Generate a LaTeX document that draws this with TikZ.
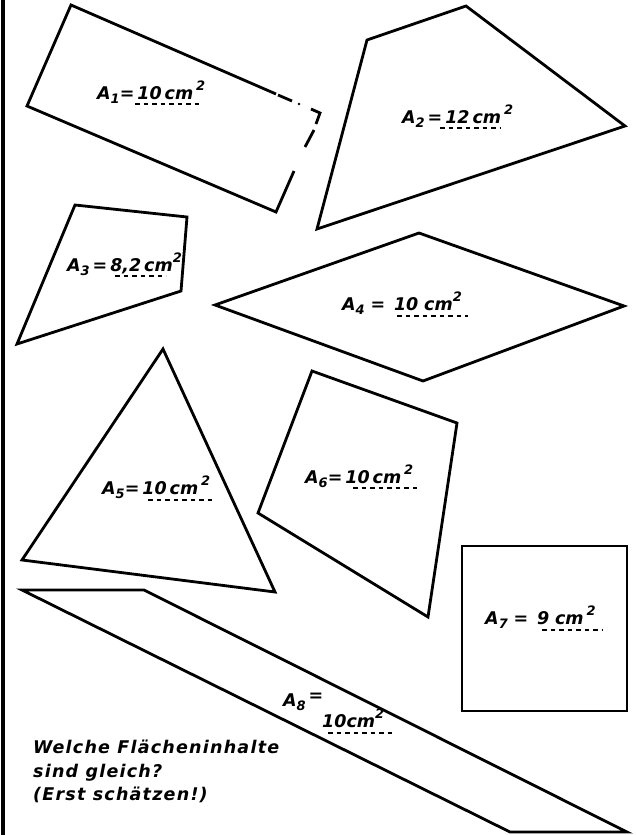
\documentclass[tikz,border=0pt]{standalone}
\usepackage{fontspec}
\setmainfont{DejaVu Sans}
\newcommand\ssub[1]{\raisebox{-0.45ex}{\fontsize{13}{13}\selectfont #1}}
\newcommand\ssup[1]{\raisebox{0.85ex}{\fontsize{13}{13}\selectfont #1}}
\tikzset{
  fig/.style={line width=2.8pt, line join=miter},
  lab/.style={font=\fontsize{17.5}{21}\selectfont\itshape\bfseries, inner sep=0pt, anchor=base west},
  dl/.style={line width=1.5pt, dash pattern=on 4.5pt off 4pt},
  captext/.style={font=\fontsize{17.5}{23.5}\selectfont\itshape\bfseries\addfontfeature{LetterSpace=7}, inner sep=0pt, anchor=north west, align=left}
}
\begin{document}
\begin{tikzpicture}[x=1pt,y=-1pt]
\useasboundingbox (0,0) rectangle (635,835);
% left border
\draw[line width=3.2pt] (3,0) -- (3,835);
% A1 rectangle with broken corner
\draw[fig] (276,94) -- (71,5) -- (27,106) -- (276,212) -- (294,171);
\draw[fig] (278,95) -- (292,101);
\fill (299,104) circle (1.4pt);
\draw[fig] (311,109) -- (320,113) -- (316,124);
\draw[fig] (314,130) -- (305,147);
\node[lab] (t1) at (97,99) {A\ssub{1}=\,10\,cm\,\ssup{2}};
\draw[dl] (135,104) -- (200,104);
% A2
\draw[fig] (367,40) -- (466,6) -- (625,126) -- (317,229) -- cycle;
\node[lab] (t2) at (402,123) {A\ssub{2}\,=\,12\,cm\,\ssup{2}};
\draw[dl] (440,128) -- (500,128);
% A3
\draw[fig] (75,205) -- (187,217) -- (181,291) -- (17,344) -- cycle;
\node[lab] (t3) at (67,271) {A\ssub{3}\,=\,8,2\,cm\ssup{2}};
\draw[dl] (115,276) -- (166,276);
% A4
\draw[fig] (215,305) -- (419,233) -- (624,306) -- (423,381) -- cycle;
\node[lab] (t4) at (342,310) {A\ssub{4}\,\,=\,\,\,10\,\,cm\ssup{2}};
\draw[dl] (397,316) -- (468,316);
% A5
\draw[fig] (163,349) -- (275,592) -- (22,560) -- cycle;
\node[lab] (t5) at (102,494) {A\ssub{5}=\,10\,cm\,\ssup{2}};
\draw[dl] (148,500) -- (212,500);
% A6
\draw[fig] (312,371) -- (457,423) -- (428,617) -- (258,513) -- cycle;
\node[lab] (t6) at (305,483) {A\ssub{6}=\,10\,cm\,\ssup{2}};
\draw[dl] (353,488) -- (418,488);
% A7
\draw[fig] (462,546) rectangle (627,711);
\node[lab] (t7) at (485,624) {A\ssub{7}\,\,=\,\,\,9\,\,cm\,\ssup{2}};
\draw[dl] (542,630) -- (603,630);
% A8
\draw[fig] (510,832) -- (22,590) -- (144,590) -- (627,832) -- cycle;
\node[lab] (t8a) at (283,706) {A\ssub{8}\,\raisebox{0.5ex}{=}};
\node[lab] (t8b) at (322,727) {10cm\ssup{2}};
\draw[dl] (328,733) -- (395,733);
% caption
\node[captext] (q) at (33,740) {Welche Flächeninhalte\\sind gleich?\\(Erst schätzen!)};
\end{tikzpicture}
\end{document}
